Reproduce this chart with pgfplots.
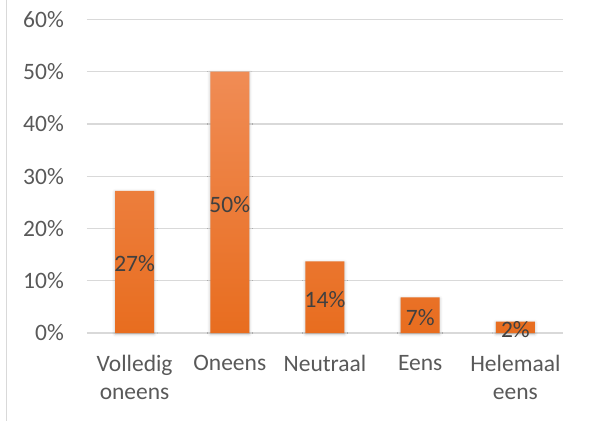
\documentclass[border=0pt]{standalone}
\usepackage{pgfplots}
\pgfplotsset{compat=1.18}
\usepackage{fontspec}
\setmainfont{Carlito}
\usetikzlibrary{shadows.blur,calc}
\definecolor{txt}{HTML}{595959}
\definecolor{lbl}{HTML}{404040}
\definecolor{gridc}{HTML}{D9D9D9}
\definecolor{bartop}{HTML}{F08C55}
\definecolor{barbot}{HTML}{E86D1F}
\begin{document}
\begin{tikzpicture}
\begin{axis}[
  name=ax,
  scale only axis, width=476pt, height=313.6pt,
  xmin=-0.5, xmax=4.5, ymin=0, ymax=60,
  ytick={0,10,...,60}, yticklabel={\pgfmathprintnumber{\tick}\%},
  xtick={0,...,4}, xticklabels={{Volledig\\oneens},Oneens,Neutraal,Eens,{Helemaal\\eens}},
  ymajorgrids, grid style={gridc, line width=1.2pt},
  axis line style={draw=none}, major tick length=0pt,
  tick label style={font=\fontsize{23.5}{28}\selectfont, text=txt},
  yticklabel style={anchor=east, inner sep=0pt, xshift=-23pt},
  xticklabel style={anchor=north, align=center, inner sep=0pt, yshift=-22pt},
  /pgf/number format/assume math mode=true,
  clip=false,
]
\addplot[ybar, bar width=39pt, draw=none, top color=bartop, bottom color=barbot,
  blur shadow={shadow xshift=0pt, shadow yshift=-1pt, shadow blur radius=3pt, shadow opacity=25}]
  coordinates {(0,27.2) (1,50) (2,13.7) (3,6.8) (4,2.2)};
\addplot[draw=none, mark=none, nodes near coords, point meta=explicit symbolic,
  every node near coord/.style={anchor=center, inner sep=0pt, font=\fontsize{23.5}{28}\selectfont, text=lbl, yshift=-2pt}]
  coordinates {(0,13.6) [27\%] (1,25) [50\%] (2,6.85) [14\%] (3,3.4) [7\%] (4,1.1) [2\%]};
\end{axis}
\draw[gridc, line width=1.2pt] ($(ax.south west)+(-80.5pt,-88pt)$) -- ++(0,421pt);
\pgfresetboundingbox
\useasboundingbox ($(ax.south west)+(-87pt,-88pt)$) rectangle ++(590pt,421pt);
\end{tikzpicture}
\end{document}
